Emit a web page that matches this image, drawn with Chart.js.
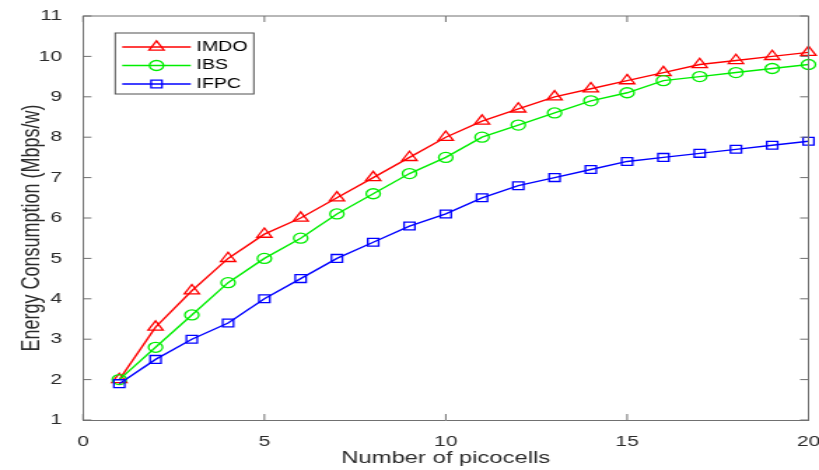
<!DOCTYPE html>
<html>
<head>
<meta charset="utf-8">
<script src="https://cdn.jsdelivr.net/npm/chart.js@4/dist/chart.umd.min.js"></script>
<style>
  html, body { margin: 0; padding: 0; background: #fff; overflow: hidden; }
  /* the source figure is stretched sideways, so draw narrow and stretch */
  #wrap { position: absolute; left: 0; top: 0; width: 585px; height: 470px;
          transform: scaleX(1.4); transform-origin: 0 0; }
</style>
</head>
<body>
<div id="wrap"><canvas id="chart-energy"></canvas></div>
<script>
const picocells = [1, 2, 3, 4, 5, 6, 7, 8, 9, 10, 11, 12, 13, 14, 15, 16, 17, 18, 19, 20];
const imdo = [2.0, 3.3, 4.2, 5.0, 5.6, 6.0, 6.5, 7.0, 7.5, 8.0, 8.4, 8.7, 9.0, 9.2, 9.4, 9.6, 9.8, 9.9, 10.0, 10.1];
const ibs  = [2.0, 2.8, 3.6, 4.4, 5.0, 5.5, 6.1, 6.6, 7.1, 7.5, 8.0, 8.3, 8.6, 8.9, 9.1, 9.4, 9.5, 9.6, 9.7, 9.8];
const ifpc = [1.9, 2.5, 3.0, 3.4, 4.0, 4.5, 5.0, 5.4, 5.8, 6.1, 6.5, 6.8, 7.0, 7.2, 7.4, 7.5, 7.6, 7.7, 7.8, 7.9];
const seriesNames = ['IMDO', 'IBS', 'IFPC'];
const xTitle = 'Number of picocells';
const yTitle = 'Energy Consumption (Mbps/w)';

const axisColor = '#707070';
const textColor = '#2b2b2b';
const fontFamily = '"Liberation Sans", Arial, sans-serif';
const tickLen = 6;

const toPoints = vals => vals.map((v, i) => ({x: picocells[i], y: v}));

function series(label, vals, color, style, radius, order) {
	return {
		label: label,
		data: toPoints(vals),
		borderColor: color,
		borderWidth: 1.4,
		pointStyle: style,
		pointRadius: radius,
		pointBorderWidth: 1.3,
		pointBorderColor: color,
		pointBackgroundColor: 'rgba(0,0,0,0)',
		tension: 0,
		clip: false,
		order: order
	};
}

// box round the plot with inward ticks on all four sides, like matlab
const matlabAxes = {
	id: 'matlabAxes',
	afterDatasetsDraw(chart) {
		const {ctx, chartArea: a, scales: {x, y}} = chart;
		ctx.save();
		ctx.strokeStyle = axisColor;
		ctx.lineWidth = 1;
		ctx.beginPath();
		ctx.moveTo(a.left, a.top);
		ctx.lineTo(a.right, a.top);
		ctx.lineTo(a.right, a.bottom);
		x.ticks.forEach(t => {
			const px = x.getPixelForValue(t.value);
			ctx.moveTo(px, a.bottom); ctx.lineTo(px, a.bottom - tickLen);
			ctx.moveTo(px, a.top); ctx.lineTo(px, a.top + tickLen);
		});
		y.ticks.forEach(t => {
			const py = y.getPixelForValue(t.value);
			ctx.moveTo(a.left, py); ctx.lineTo(a.left + tickLen, py);
			ctx.moveTo(a.right, py); ctx.lineTo(a.right - tickLen, py);
		});
		ctx.stroke();
		ctx.restore();
	}
};

// legend in a box inside the plot, line + marker per entry
const boxLegend = {
	id: 'boxLegend',
	afterDraw(chart) {
		const {ctx, chartArea: a} = chart;
		const left = a.left + 23, top = a.top + 17, w = 99, h = 61;
		ctx.save();
		ctx.fillStyle = '#fff';
		ctx.fillRect(left, top, w, h);
		ctx.strokeStyle = '#505050';
		ctx.lineWidth = 1;
		ctx.strokeRect(left, top, w, h);
		chart.data.datasets.forEach((ds, i) => {
			const cy = top + 14 + i * 18.5;
			ctx.strokeStyle = ds.borderColor;
			ctx.lineWidth = ds.borderWidth;
			ctx.beginPath();
			ctx.moveTo(left + 5, cy);
			ctx.lineTo(left + 54, cy);
			ctx.stroke();
			ctx.fillStyle = 'rgba(0,0,0,0)';
			ctx.lineWidth = ds.pointBorderWidth;
			Chart.helpers.drawPoint(ctx, {
				pointStyle: ds.pointStyle, radius: ds.pointRadius,
				borderWidth: ds.pointBorderWidth, rotation: 0
			}, left + 29.5, cy);
			ctx.fillStyle = '#000';
			ctx.font = '14px ' + fontFamily;
			ctx.textBaseline = 'middle';
			ctx.textAlign = 'left';
			ctx.fillText(ds.label, left + 58, cy);
		});
		ctx.restore();
	}
};

const ctx = document.getElementById('chart-energy').getContext('2d');
const myChart = new Chart(ctx, {
	type: 'line',
	data: {
		datasets: [
			series(seriesNames[0], imdo, '#ff0000', 'triangle', 6.2, 3),
			series(seriesNames[1], ibs, '#00ee00', 'circle', 5, 2),
			series(seriesNames[2], ifpc, '#0000ff', 'rect', 5.5, 1)
		]
	},
	options: {
		responsive: true,
		maintainAspectRatio: false,
		animation: false,
		layout: { padding: { top: 16, right: 4.3, bottom: 0, left: 0 } },
		plugins: {
			legend: { display: false },
			tooltip: { enabled: false }
		},
		scales: {
			x: {
				type: 'linear',
				min: 0,
				max: 20,
				grid: { display: false },
				border: { display: true, color: axisColor, width: 1 },
				ticks: {
					stepSize: 5,
					padding: 5,
					color: textColor,
					font: { family: fontFamily, size: 15 }
				},
				title: {
					display: true,
					text: xTitle,
					color: textColor,
					font: { family: fontFamily, size: 17, lineHeight: 1.2 },
					padding: { top: 0, bottom: 1 }
				},
				afterFit: scale => {
					scale.height = 50;
					scale.paddingRight = 0;
					scale.paddingLeft = 0;
				}
			},
			y: {
				min: 1,
				max: 11,
				grid: { display: false },
				border: { display: true, color: axisColor, width: 1 },
				ticks: {
					stepSize: 1,
					padding: 7,
					color: textColor,
					font: { family: fontFamily, size: 15 }
				},
				title: {
					display: true,
					text: yTitle + '    ',
					color: textColor,
					font: { family: fontFamily, size: 18, lineHeight: 1.2 },
					padding: { top: 12, bottom: 0 }
				},
				afterFit: scale => {
					scale.width = 59.3;
				}
			}
		}
	},
	plugins: [matlabAxes, boxLegend]
});
</script>
</body>
</html>
